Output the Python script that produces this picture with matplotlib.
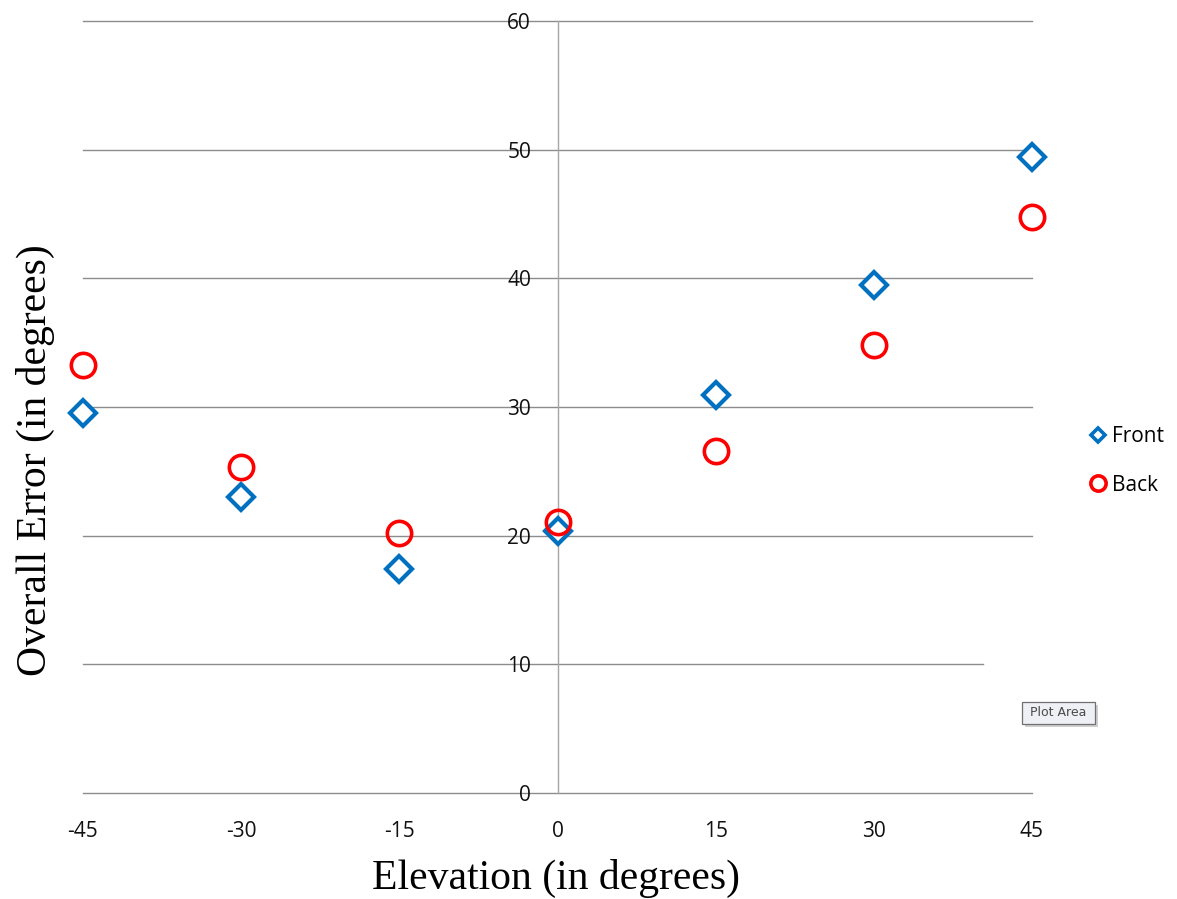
import matplotlib
matplotlib.use("Agg")
import matplotlib.pyplot as plt
from matplotlib.lines import Line2D
from matplotlib.patches import Rectangle

# ---- data ----
elevation = [-45, -30, -15, 0, 15, 30, 45]
front = [29.5, 23.0, 17.4, 20.4, 30.9, 39.5, 49.4]
back = [33.3, 25.3, 20.2, 21.1, 26.6, 34.8, 44.8]
x_ticks = [-45, -30, -15, 0, 15, 30, 45]
y_ticks = [0, 10, 20, 30, 40, 50, 60]
series_names = ["Front", "Back"]

W, H = 1177, 899
fig = plt.figure(figsize=(W / 100, H / 100), dpi=100)
ax = fig.add_axes([83 / W, 1 - 793 / H, (1032 - 83) / W, (793 - 21) / H])

ax.set_xlim(-45, 45)
ax.set_ylim(0, 60)

grid_c = "#8c8c8c"
for yv in y_ticks:
    xmax = 1.0
    if yv == 10:
        xmax = (983 - 83) / (1032 - 83)
    ax.axhline(yv, xmin=0, xmax=xmax, color=grid_c, lw=1.0, zorder=1,
               clip_on=False)

for s in ["top", "right", "bottom"]:
    ax.spines[s].set_visible(False)
ax.spines["left"].set_position(("data", 0))
ax.spines["left"].set_color("#a6a6a6")
ax.spines["left"].set_linewidth(1.0)

ax.set_xticks(x_ticks)
ax.set_yticks(y_ticks)
tick_font = dict(family="Open Sans", size=15)
ax.set_xticklabels([str(v) for v in x_ticks], fontdict=tick_font)
ax.set_yticklabels([str(v) for v in y_ticks], fontdict=tick_font)
ax.tick_params(axis="x", length=0, pad=20, colors="#111111")
ax.tick_params(axis="y", length=0, pad=19, colors="#111111")

blue = "#0070C0"
red = "#FF0000"
ax.plot(elevation, front, linestyle="none", marker="D", markersize=13.5,
        markerfacecolor="white", markeredgecolor=blue, markeredgewidth=3,
        clip_on=False, zorder=3)
ax.plot(elevation, back, linestyle="none", marker="o", markersize=17.5,
        markerfacecolor="none", markeredgecolor=red, markeredgewidth=2.6,
        clip_on=False, zorder=4)

handles = [
    Line2D([], [], linestyle="none", marker="D", markersize=7.5,
           markerfacecolor="white", markeredgecolor=blue, markeredgewidth=2.6),
    Line2D([], [], linestyle="none", marker="o", markersize=11,
           markerfacecolor="none", markeredgecolor=red, markeredgewidth=2.6),
]
fig.legend(handles, series_names, loc="center left",
           bbox_to_anchor=(1078 / W, 1 - 461 / H), frameon=False,
           prop=dict(family="Open Sans", size=15), handlelength=0.9,
           handletextpad=0.25, labelspacing=1.3, borderpad=0)

label_font = dict(family="Liberation Serif", size=30)
fig.text(556 / W, 1 - 878 / H, "Elevation (in degrees)", ha="center",
         va="center", fontdict=label_font)
fig.text(35 / W, 1 - 460 / H, "Overall Error (in degrees)", ha="center",
         va="center", rotation=90, fontdict=label_font)

# "Plot Area" tooltip with a soft shadow
fig.patches.append(Rectangle((1025 / W, 1 - 727 / H), 73 / W, 22 / H,
                             transform=fig.transFigure, facecolor="#cfcfcf",
                             edgecolor="none", zorder=5))
fig.patches.append(Rectangle((1022 / W, 1 - 724 / H), 73 / W, 22 / H,
                             transform=fig.transFigure, facecolor="#eef0f5",
                             edgecolor="#707070", linewidth=0.9, zorder=6))
fig.text(1058.5 / W, 1 - 713 / H, "Plot Area", ha="center", va="center",
         family="DejaVu Sans", size=9, color="#4a4a4a", zorder=7)

fig.savefig("out.png", dpi=100, facecolor="white")
